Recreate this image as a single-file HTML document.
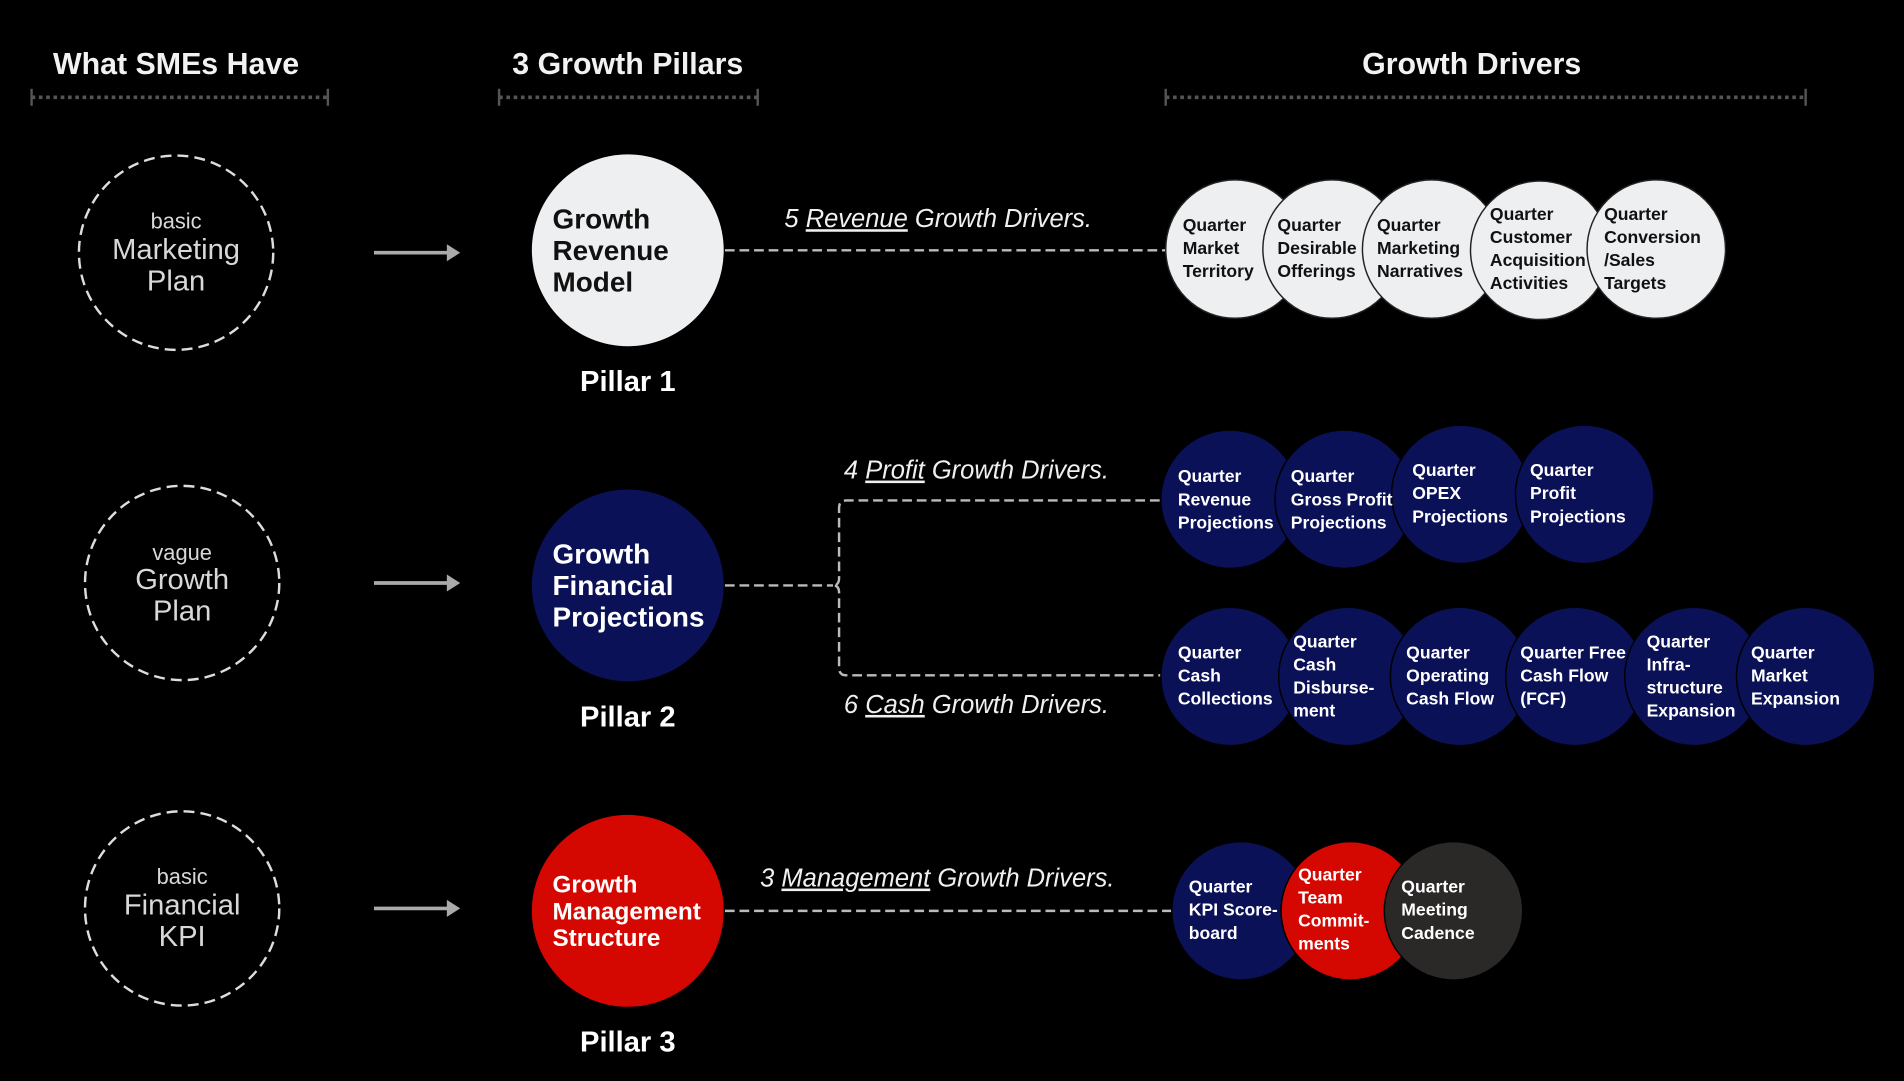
<!DOCTYPE html>
<html><head><meta charset="utf-8"><style>
html,body{margin:0;padding:0;background:#000;}
svg{display:block}
text{font-family:"Liberation Sans",sans-serif;}
.h{font-size:25px;font-weight:bold;fill:#f2f2f2;text-anchor:middle}
.lt{fill:#d8d8d8;text-anchor:middle}
.p{font-size:23px;font-weight:bold}
.pl{font-size:24px;font-weight:bold;fill:#fff;text-anchor:middle}
.lab{font-size:21px;font-style:italic;fill:#f0f0f0}
.d{font-size:14.5px;font-weight:bold}
.dk{fill:#111}
.wh{fill:#fff}
</style></head><body>
<svg width="1904" height="1081" viewBox="0 0 1568 890" xmlns="http://www.w3.org/2000/svg">
<rect width="1568" height="890" fill="#000"/>
<!-- headers -->
<text class="h" x="145" y="61">What SMEs Have</text>
<text class="h" x="517" y="61">3 Growth Pillars</text>
<text class="h" x="1212" y="61">Growth Drivers</text>
<g stroke="#555" stroke-width="2">
<line x1="26" y1="80" x2="270" y2="80" stroke-dasharray="3,3" stroke-width="3"/>
<line x1="26" y1="73" x2="26" y2="87"/><line x1="270" y1="73" x2="270" y2="87"/>
<line x1="411" y1="80" x2="624" y2="80" stroke-dasharray="3,3" stroke-width="3"/>
<line x1="411" y1="73" x2="411" y2="87"/><line x1="624" y1="73" x2="624" y2="87"/>
<line x1="960" y1="80" x2="1487" y2="80" stroke-dasharray="3,3" stroke-width="3"/>
<line x1="960" y1="73" x2="960" y2="87"/><line x1="1487" y1="73" x2="1487" y2="87"/>
</g>
<!-- left dashed circles -->
<g fill="none" stroke="#ddd" stroke-width="2" stroke-dasharray="9,5">
<circle cx="145" cy="208" r="80"/><circle cx="150" cy="480" r="80"/><circle cx="150" cy="748" r="80"/>
</g>
<text class="lt" x="145" y="188" font-size="18">basic</text>
<text class="lt" x="145" y="213" font-size="24">Marketing</text>
<text class="lt" x="145" y="239" font-size="24">Plan</text>
<text class="lt" x="150" y="461" font-size="18">vague</text>
<text class="lt" x="150" y="485" font-size="24">Growth</text>
<text class="lt" x="150" y="511" font-size="24">Plan</text>
<text class="lt" x="150" y="728" font-size="18">basic</text>
<text class="lt" x="150" y="753" font-size="24">Financial</text>
<text class="lt" x="150" y="779" font-size="24">KPI</text>
<!-- arrows -->
<g stroke="#aaa" stroke-width="3" fill="#aaa">
<line x1="308" y1="208" x2="370" y2="208"/><polygon points="368,201 379,208 368,215" stroke="none"/>
<line x1="308" y1="480" x2="370" y2="480"/><polygon points="368,473 379,480 368,487" stroke="none"/>
<line x1="308" y1="748" x2="370" y2="748"/><polygon points="368,741 379,748 368,755" stroke="none"/>
</g>
<!-- pillars -->
<circle cx="517" cy="206" r="79" fill="#eeeff0"/>
<text class="p dk" x="455" y="188">Growth</text><text class="p dk" x="455" y="214">Revenue</text><text class="p dk" x="455" y="240">Model</text>
<text class="pl" x="517" y="322">Pillar 1</text>
<circle cx="517" cy="482" r="79" fill="#0a1157"/>
<text class="p wh" x="455" y="464">Growth</text><text class="p wh" x="455" y="490">Financial</text><text class="p wh" x="455" y="516">Projections</text>
<text class="pl" x="517" y="598">Pillar 2</text>
<circle cx="517" cy="750" r="79" fill="#d40800"/>
<text class="wh" font-size="20" font-weight="bold" x="455" y="735">Growth</text><text class="wh" font-size="20" font-weight="bold" x="455" y="757">Management</text><text class="wh" font-size="20" font-weight="bold" x="455" y="779">Structure</text>
<text class="pl" x="517" y="866">Pillar 3</text>
<!-- connectors -->
<g fill="none" stroke="#bbb" stroke-width="2" stroke-dasharray="8,4">
<line x1="597" y1="206" x2="962" y2="206"/>
<line x1="597" y1="482" x2="686" y2="482"/>
<path d="M955,412 H697 Q691,412 691,418 V476 Q691,482 686,482 Q691,482 691,488 V550 Q691,556 697,556 H957"/>
<line x1="597" y1="750" x2="968" y2="750"/>
</g>
<text class="lab" x="646" y="187">5 <tspan text-decoration="underline">Revenue</tspan> Growth Drivers.</text>
<text class="lab" x="695" y="394">4 <tspan text-decoration="underline">Profit</tspan> Growth Drivers.</text>
<text class="lab" x="695" y="587">6 <tspan text-decoration="underline">Cash</tspan> Growth Drivers.</text>
<text class="lab" x="626" y="730">3 <tspan text-decoration="underline">Management</tspan> Growth Drivers.</text>
<!-- row1 -->
<g fill="#eeeff0" stroke="#222" stroke-width="1.2">
<circle cx="1017" cy="205" r="57"/><circle cx="1097" cy="205" r="57"/><circle cx="1179" cy="205" r="57"/><circle cx="1268" cy="206" r="57"/><circle cx="1364" cy="205" r="57"/>
</g>
<g class="d dk">
<text class="d dk" x="974" y="190">Quarter</text><text class="d dk" x="974" y="209">Market</text><text class="d dk" x="974" y="228">Territory</text>
<text class="d dk" x="1052" y="190">Quarter</text><text class="d dk" x="1052" y="209">Desirable</text><text class="d dk" x="1052" y="228">Offerings</text>
<text class="d dk" x="1134" y="190">Quarter</text><text class="d dk" x="1134" y="209">Marketing</text><text class="d dk" x="1134" y="228">Narratives</text>
<text class="d dk" x="1227" y="181">Quarter</text><text class="d dk" x="1227" y="200">Customer</text><text class="d dk" x="1227" y="219">Acquisition</text><text class="d dk" x="1227" y="238">Activities</text>
<text class="d dk" x="1321" y="181">Quarter</text><text class="d dk" x="1321" y="200">Conversion</text><text class="d dk" x="1321" y="219">/Sales</text><text class="d dk" x="1321" y="238">Targets</text>
</g>
<!-- row2 -->
<g fill="#0a1157" stroke="#000" stroke-width="1.2">
<circle cx="1013" cy="411" r="57"/><circle cx="1107" cy="411" r="57"/><circle cx="1203" cy="407" r="57"/><circle cx="1305" cy="407" r="57"/>
</g>
<text class="d wh" x="970" y="397">Quarter</text><text class="d wh" x="970" y="416">Revenue</text><text class="d wh" x="970" y="435">Projections</text>
<text class="d wh" x="1063" y="397">Quarter</text><text class="d wh" x="1063" y="416">Gross Profit</text><text class="d wh" x="1063" y="435">Projections</text>
<text class="d wh" x="1163" y="392">Quarter</text><text class="d wh" x="1163" y="411">OPEX</text><text class="d wh" x="1163" y="430">Projections</text>
<text class="d wh" x="1260" y="392">Quarter</text><text class="d wh" x="1260" y="411">Profit</text><text class="d wh" x="1260" y="430">Projections</text>
<!-- row3 -->
<g fill="#0a1157" stroke="#000" stroke-width="1.2">
<circle cx="1013" cy="557" r="57"/><circle cx="1110" cy="557" r="57"/><circle cx="1202" cy="557" r="57"/><circle cx="1297" cy="557" r="57"/><circle cx="1395" cy="557" r="57"/><circle cx="1487" cy="557" r="57"/>
</g>
<text class="d wh" x="970" y="542">Quarter</text><text class="d wh" x="970" y="561">Cash</text><text class="d wh" x="970" y="580">Collections</text>
<text class="d wh" x="1065" y="533">Quarter</text><text class="d wh" x="1065" y="552">Cash</text><text class="d wh" x="1065" y="571">Disburse-</text><text class="d wh" x="1065" y="590">ment</text>
<text class="d wh" x="1158" y="542">Quarter</text><text class="d wh" x="1158" y="561">Operating</text><text class="d wh" x="1158" y="580">Cash Flow</text>
<text class="d wh" x="1252" y="542">Quarter Free</text><text class="d wh" x="1252" y="561">Cash Flow</text><text class="d wh" x="1252" y="580">(FCF)</text>
<text class="d wh" x="1356" y="533">Quarter</text><text class="d wh" x="1356" y="552">Infra-</text><text class="d wh" x="1356" y="571">structure</text><text class="d wh" x="1356" y="590">Expansion</text>
<text class="d wh" x="1442" y="542">Quarter</text><text class="d wh" x="1442" y="561">Market</text><text class="d wh" x="1442" y="580">Expansion</text>
<!-- row4 -->
<g stroke="#000" stroke-width="1.2">
<circle cx="1022" cy="750" r="57" fill="#0a1157"/><circle cx="1112" cy="750" r="57" fill="#d40800"/><circle cx="1197" cy="750" r="57" fill="#2b2828"/>
</g>
<text class="d wh" x="979" y="735">Quarter</text><text class="d wh" x="979" y="754">KPI Score-</text><text class="d wh" x="979" y="773">board</text>
<text class="d wh" x="1069" y="725">Quarter</text><text class="d wh" x="1069" y="744">Team</text><text class="d wh" x="1069" y="763">Commit-</text><text class="d wh" x="1069" y="782">ments</text>
<text class="d wh" x="1154" y="735">Quarter</text><text class="d wh" x="1154" y="754">Meeting</text><text class="d wh" x="1154" y="773">Cadence</text>
</svg>
</body></html>
